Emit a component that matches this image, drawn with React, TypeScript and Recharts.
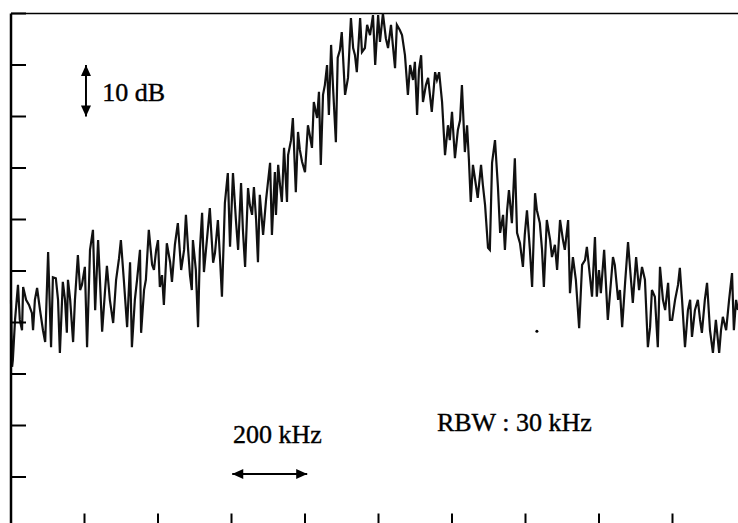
import React from "react";
import { LineChart, Line, XAxis, YAxis, ReferenceLine, ReferenceDot } from "recharts";

// frequency (kHz across the 2 MHz span) and level (dB below the top of the screen)
const freqKHz = [
  0, 3, 5, 11, 19, 24, 30, 33, 41, 49, 57, 60, 65, 71, 79, 87, 93, 101, 109, 114,
  122, 128, 133, 141, 147, 152, 155, 161, 169, 174, 182, 188, 193, 201, 207, 215, 223, 229, 237, 242,
  248, 256, 261, 269, 278, 286, 294, 299, 307, 316, 324, 329, 337, 343, 351, 354, 362, 367, 375, 384,
  389, 395, 400, 405, 411, 416, 422, 424, 433, 438, 446, 454, 463, 471, 476, 482, 487, 492, 495, 503,
  509, 514, 520, 525, 533, 541, 550, 555, 563, 569, 574, 582, 590, 596, 604, 612, 618, 626, 631, 637,
  645, 650, 656, 661, 667, 672, 677, 686, 694, 705, 710, 718, 721, 727, 732, 737, 743, 751, 754, 762,
  767, 775, 781, 786, 792, 800, 808, 813, 819, 824, 833, 838, 843, 849, 854, 860, 865, 871, 876, 884,
  889, 895, 900, 909, 917, 925, 931, 936, 941, 950, 955, 963, 969, 977, 985, 991, 999, 1004, 1012, 1020,
  1026, 1034, 1039, 1045, 1050, 1058, 1064, 1072, 1080, 1086, 1094, 1099, 1105, 1110, 1116, 1121, 1129, 1135, 1140, 1145,
  1154, 1159, 1165, 1173, 1181, 1189, 1194, 1200, 1208, 1216, 1222, 1227, 1235, 1241, 1246, 1251, 1257, 1265, 1270, 1279,
  1284, 1290, 1298, 1303, 1309, 1317, 1325, 1331, 1339, 1344, 1350, 1355, 1363, 1371, 1377, 1385, 1393, 1398, 1404, 1412,
  1418, 1426, 1431, 1439, 1445, 1450, 1458, 1467, 1472, 1480, 1486, 1494, 1502, 1507, 1516, 1521, 1529, 1537, 1546, 1554,
  1562, 1567, 1575, 1581, 1589, 1594, 1600, 1605, 1614, 1619, 1624, 1633, 1638, 1643, 1652, 1657, 1663, 1671, 1679, 1687,
  1692, 1701, 1709, 1717, 1725, 1733, 1739, 1744, 1752, 1760, 1766, 1774, 1780, 1788, 1793, 1799, 1807, 1815, 1820, 1826,
  1834, 1842, 1848, 1853, 1861, 1869, 1875, 1880, 1888, 1894, 1902, 1910, 1918, 1927, 1932, 1937, 1946, 1954, 1962, 1967,
  1973, 1978,
];

const levelDb = [
  -55.6, -68.6, -67.3, -59.5, -52.7, -59.5, -61.5, -53.1, -55.6, -56.6, -58.2, -61.5, -55.6, -53.3, -57.6, -61.5, -63.8, -46.3, -64.8, -51.2,
  -51.4, -55.6, -65.9, -52.1, -55.6, -62.0, -51.7, -55.6, -63.8, -55.6, -46.9, -53.7, -52.7, -49.2, -64.8, -45.9, -42.0, -57.6, -44.0, -51.7,
  -61.8, -53.7, -49.0, -55.6, -60.1, -51.7, -47.5, -44.0, -51.7, -60.9, -48.3, -64.8, -55.6, -51.7, -45.9, -62.0, -53.7, -51.7, -42.0, -48.8,
  -49.8, -45.9, -44.0, -53.1, -50.8, -56.6, -47.9, -44.6, -48.3, -52.1, -44.9, -40.7, -49.8, -45.9, -39.1, -45.9, -50.8, -53.7, -44.0, -49.8,
  -60.9, -45.9, -38.7, -50.2, -44.0, -37.8, -48.4, -46.5, -40.1, -47.9, -55.0, -36.8, -31.0, -45.3, -31.0, -40.1, -45.9, -32.9, -42.0, -49.2,
  -33.9, -37.2, -39.1, -33.7, -40.1, -48.3, -35.2, -43.0, -36.2, -29.0, -43.0, -30.8, -39.1, -29.4, -33.3, -36.6, -26.1, -36.6, -27.5, -24.6,
  -20.3, -34.7, -23.0, -26.5, -28.8, -30.8, -21.7, -23.6, -26.1, -17.2, -20.3, -15.2, -29.4, -15.8, -13.9, -10.0, -19.7, -6.1, -13.9, -25.0,
  -8.6, -7.1, -3.6, -15.8, -12.5, -0.9, -6.7, -8.1, -11.4, -0.9, -7.5, -6.7, -2.2, -4.2, -0.3, -10.0, -0.3, -5.5, 0, -4.8,
  -6.7, -2.2, -6.1, -10.6, -2.2, -3.2, -4.2, -8.1, -15.8, -10.0, -12.9, -9.4, -19.7, -11.0, -8.1, -17.2, -13.9, -12.5, -15.8, -19.1,
  -11.4, -12.9, -11.4, -17.2, -27.5, -21.7, -24.6, -19.1, -28.1, -22.6, -20.7, -13.9, -26.9, -21.7, -28.4, -36.6, -29.4, -33.3, -35.8, -29.4,
  -33.3, -37.2, -45.5, -45.9, -29.0, -24.6, -33.7, -42.6, -39.1, -45.9, -38.2, -34.3, -40.7, -28.1, -42.6, -44.6, -49.2, -43.0, -38.2, -45.9,
  -53.1, -34.9, -38.2, -40.7, -45.9, -53.1, -40.1, -44.0, -47.3, -44.9, -49.8, -40.1, -44.0, -45.9, -40.1, -54.3, -47.3, -51.7, -61.1, -48.8,
  -47.9, -45.3, -50.8, -55.0, -43.4, -55.0, -49.8, -54.3, -45.9, -52.7, -59.5, -51.7, -47.3, -48.8, -55.6, -53.7, -60.9, -52.3, -44.4, -51.7,
  -56.2, -47.3, -53.7, -49.2, -51.7, -64.8, -60.9, -53.7, -55.0, -64.8, -49.2, -55.6, -57.6, -52.3, -59.5, -59.5, -55.6, -52.7, -49.4, -55.6,
  -64.8, -57.6, -55.6, -62.8, -57.6, -55.6, -59.5, -62.0, -55.6, -52.3, -61.5, -65.9, -59.5, -65.9, -61.5, -58.9, -61.5, -55.6, -50.4, -61.5,
  -55.6, -57.6,
];

const freqTicks = [0, 200, 400, 600, 800, 1000, 1200, 1400, 1600, 1800, 2000];
const levelTicks = [-100, -90, -80, -70, -60, -50, -40, -30, -20, -10, 0];

const data = freqKHz.map((f, i) => ({ f, db: levelDb[i] }));

const serif = "'Liberation Serif', 'Times New Roman', serif";

function DoubleArrow(props: any) {
  const { x1, y1, x2, y2 } = props;
  const a = Math.atan2(y2 - y1, x2 - x1);
  const head = (x: number, y: number, ang: number) => {
    const len = 11;
    const half = 5;
    const bx = x - len * Math.cos(ang);
    const by = y - len * Math.sin(ang);
    const px = -Math.sin(ang) * half;
    const py = Math.cos(ang) * half;
    return `${x},${y} ${bx + px},${by + py} ${bx - px},${by - py}`;
  };
  return (
    <g>
      <line x1={x1} y1={y1} x2={x2} y2={y2} stroke="#000" strokeWidth={2} />
      <polygon points={head(x2, y2, a)} fill="#000" />
      <polygon points={head(x1, y1, a + Math.PI)} fill="#000" />
    </g>
  );
}

const textShape = (label: string) => (p: any) => (
  <text x={p.cx} y={p.cy} fontFamily={serif} fontSize={26} fill="#000" stroke="#000" strokeWidth={0.4}>
    {label}
  </text>
);

const noLabel = () => "";

export default function App() {
  return (
    <div style={{ position: "absolute", left: 0, top: 0, width: 738, height: 523, overflow: "hidden", background: "#fff" }}>
      <LineChart width={760} height={545} data={data} margin={{ top: 13.5, left: 11, right: 14, bottom: 16.5 }}>
        <XAxis
          dataKey="f"
          type="number"
          domain={[0, 2000]}
          ticks={freqTicks}
          mirror
          height={1}
          tickFormatter={noLabel}
          tickSize={15}
          axisLine={{ stroke: "#000", strokeWidth: 2 }}
          tickLine={{ stroke: "#000", strokeWidth: 2 }}
        />
        <YAxis
          type="number"
          domain={[-100, 0]}
          ticks={levelTicks}
          mirror
          width={1}
          tickFormatter={noLabel}
          tickSize={15}
          axisLine={{ stroke: "#000", strokeWidth: 2.5 }}
          tickLine={{ stroke: "#000", strokeWidth: 2 }}
        />
        <ReferenceLine y={0} stroke="#000" strokeWidth={1.5} />
        <Line
          dataKey="db"
          type="linear"
          stroke="#111"
          strokeWidth={2.2}
          dot={false}
          isAnimationActive={false}
        />
        <ReferenceLine segment={[{ x: 204, y: -10 }, { x: 204, y: -20 }]} shape={DoubleArrow} />
        <ReferenceLine segment={[{ x: 602, y: -89.4 }, { x: 806, y: -89.4 }]} shape={DoubleArrow} />
        <ReferenceDot x={1431} y={-61.7} r={1.5} fill="#000" stroke="none" />
        <ReferenceDot x={248} y={-17} shape={textShape("10 dB")} />
        <ReferenceDot x={604} y={-83.4} shape={textShape("200 kHz")} />
        <ReferenceDot x={1159} y={-81.1} shape={textShape("RBW : 30 kHz")} />
      </LineChart>
    </div>
  );
}
